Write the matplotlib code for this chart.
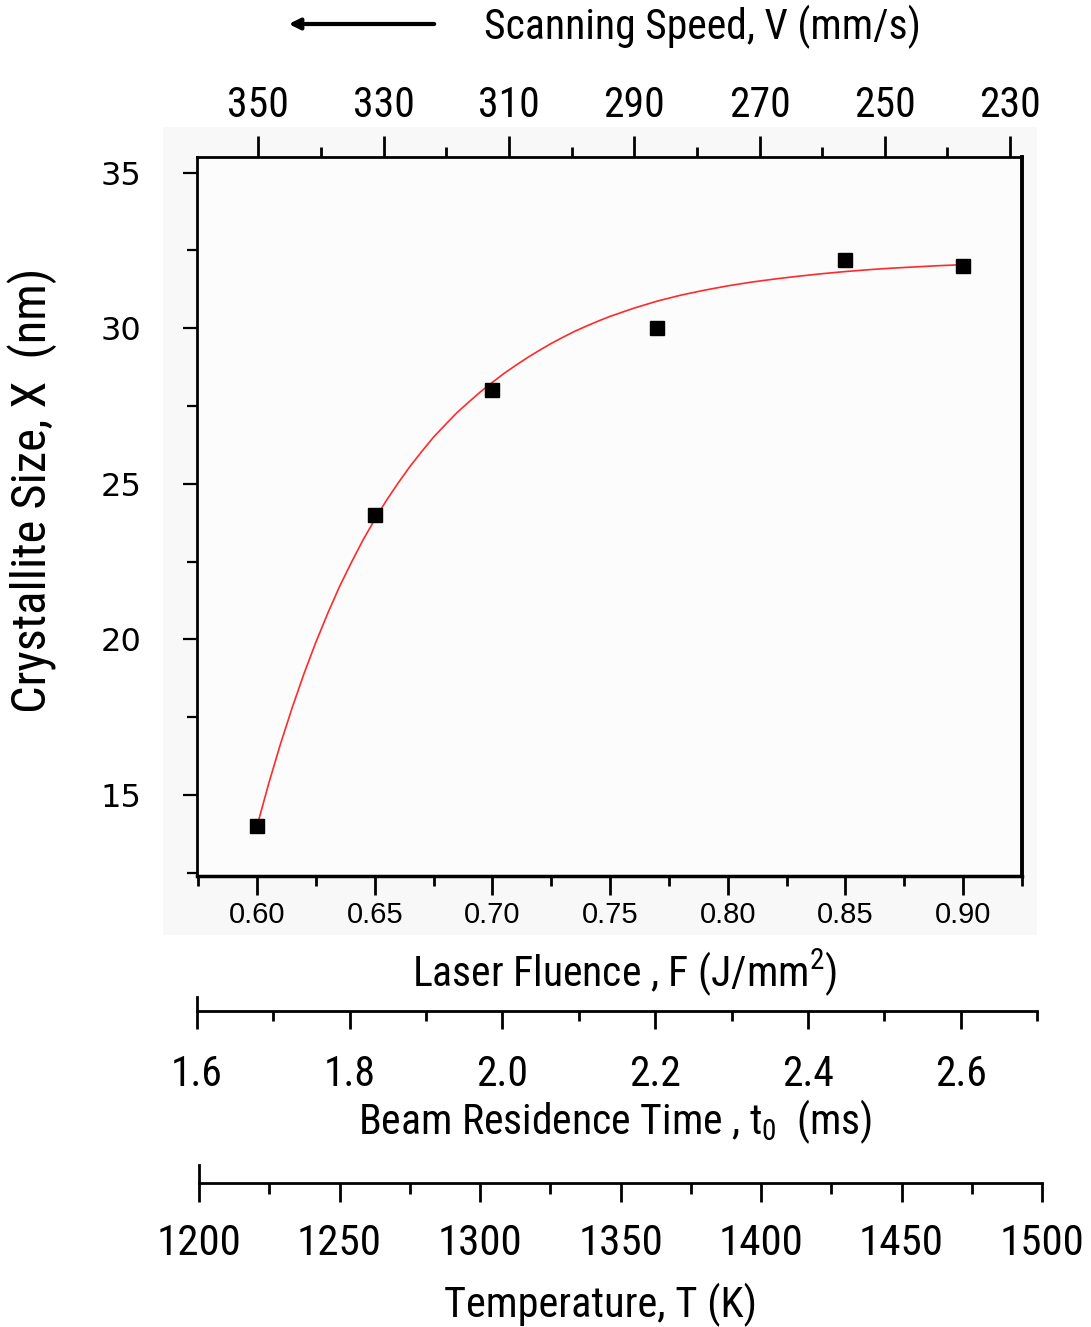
import matplotlib
matplotlib.use('Agg')
import matplotlib.pyplot as plt
from matplotlib import font_manager as fm
from matplotlib.patches import Rectangle, FancyArrowPatch
from matplotlib.ticker import MultipleLocator, FixedLocator, FormatStrFormatter

# ---------------- data ----------------
fluence = [0.60, 0.65, 0.70, 0.77, 0.85, 0.90]
size_nm = [14.0, 24.0, 28.0, 30.0, 32.2, 32.0]

# points
fit_fluence = [0.600, 0.605, 0.610, 0.615, 0.620, 0.625, 0.630, 0.635, 0.640, 0.645,
               0.650, 0.655, 0.660, 0.665, 0.670, 0.675, 0.680, 0.685, 0.690, 0.695,
               0.700, 0.705, 0.710, 0.715, 0.720, 0.725, 0.730, 0.735, 0.740, 0.745,
               0.750, 0.760, 0.770, 0.780, 0.790, 0.800, 0.810, 0.820, 0.830, 0.840,
               0.850, 0.860, 0.870, 0.880, 0.890, 0.900]
fit_size = [14.00, 15.38, 16.65, 17.82, 18.91, 19.91, 20.83, 21.69, 22.46, 23.19,
            23.85, 24.47, 25.03, 25.56, 26.04, 26.50, 26.90, 27.29, 27.63, 27.96,
            28.26, 28.55, 28.81, 29.06, 29.29, 29.51, 29.71, 29.90, 30.07, 30.23,
            30.38, 30.64, 30.87, 31.06, 31.22, 31.36, 31.48, 31.58, 31.67, 31.75,
            31.82, 31.88, 31.93, 31.97, 32.01, 32.04]

fluence_ticks = [0.60, 0.65, 0.70, 0.75, 0.80, 0.85, 0.90]
size_ticks = [15, 20, 25, 30, 35]
speed_ticks = [350, 330, 310, 290, 270, 250, 230]
time_ticks = [1.6, 1.8, 2.0, 2.2, 2.4, 2.6]
temp_ticks = [1200, 1250, 1300, 1350, 1400, 1450, 1500]


def pick(names):
    for n in names:
        try:
            fm.findfont(fm.FontProperties(family=n), fallback_to_default=False)
            return n
        except Exception:
            pass
    return 'DejaVu Sans'


NARROW = pick(['Liberation Sans Narrow', 'Roboto Condensed', 'Liberation Sans'])
ARIAL = pick(['Liberation Sans', 'DejaVu Sans'])

plt.rcParams['mathtext.fontset'] = 'custom'
plt.rcParams['mathtext.rm'] = NARROW
plt.rcParams['mathtext.it'] = NARROW
plt.rcParams['mathtext.bf'] = NARROW

W, H = 1091, 1327
fig = plt.figure(figsize=(W / 100, H / 100), dpi=100)
fig.patch.set_facecolor('white')


def fx(px):
    return px / W


def fy(py):
    return 1 - py / H


def rect(l, t, r, b):
    return [l / W, 1 - b / H, (r - l) / W, (b - t) / H]


# faint grey background panel
fig.add_artist(Rectangle((fx(163), fy(935)), (1037 - 163) / W, (935 - 127) / H,
                         transform=fig.transFigure, color='#f8f8f8', zorder=-5, lw=0))

# ---------------- main axes ----------------
ax = fig.add_axes(rect(197, 157, 1022, 876))
ax.set_facecolor('#fcfcfc')
ax.set_xlim(0.5745, 0.925)
ax.set_ylim(12.4, 35.5)
ax.plot(fit_fluence, fit_size, color='#ff2a2a', lw=1.2, zorder=2)
ax.plot(fluence, size_nm, 's', color='black', ms=10.5, zorder=3)

ax.xaxis.set_major_locator(FixedLocator(fluence_ticks))
ax.xaxis.set_major_formatter(FormatStrFormatter('%.2f'))
ax.xaxis.set_minor_locator(MultipleLocator(0.025))
ax.yaxis.set_major_locator(FixedLocator(size_ticks))
ax.yaxis.set_minor_locator(MultipleLocator(2.5))

ax.spines['top'].set_visible(False)
ax.spines['left'].set_linewidth(2.0)
ax.spines['bottom'].set_linewidth(2.5)
ax.spines['right'].set_linewidth(2.8)

ax.tick_params(axis='x', which='major', direction='out', length=14, width=2, pad=4,
               labelsize=21)
ax.tick_params(axis='x', which='minor', direction='out', length=7.5, width=2)
ax.tick_params(axis='y', which='major', direction='out', length=10, width=1.6, pad=30,
               labelsize=23)
ax.tick_params(axis='y', which='minor', direction='out', length=7, width=1.6)
for lab in ax.get_xticklabels():
    lab.set_fontfamily(ARIAL)
for lab in ax.get_yticklabels():
    lab.set_fontfamily('DejaVu Sans')

# ---------------- top axis: scanning speed ----------------
ax2 = ax.twiny()
ax2.set_xlim(359.8, 228.1)
ax2.patch.set_visible(False)
for s in ['left', 'right', 'bottom']:
    ax2.spines[s].set_visible(False)
ax2.spines['top'].set_linewidth(2.0)
ax2.xaxis.set_major_locator(FixedLocator(speed_ticks))
ax2.xaxis.set_minor_locator(MultipleLocator(10))
ax2.tick_params(axis='x', which='major', direction='out', length=15, width=2, pad=7,
                labelsize=30)
ax2.tick_params(axis='x', which='minor', direction='out', length=7, width=2)
for lab in ax2.get_xticklabels():
    lab.set_fontfamily(NARROW)

# ---------------- beam residence time axis ----------------
axb = fig.add_axes(rect(197, 997, 1037, 1011))
axb.patch.set_visible(False)
axb.set_xlim(1.6, 2.7)
axb.set_yticks([])
for s in ['top', 'right']:
    axb.spines[s].set_visible(False)
axb.spines['bottom'].set_linewidth(2.0)
axb.spines['left'].set_linewidth(2.0)
axb.xaxis.set_major_locator(FixedLocator(time_ticks))
axb.xaxis.set_major_formatter(FormatStrFormatter('%.1f'))
axb.xaxis.set_minor_locator(MultipleLocator(0.1))
axb.tick_params(axis='x', which='major', direction='out', length=13, width=2, pad=18,
                labelsize=30)
axb.tick_params(axis='x', which='minor', direction='out', length=7, width=2)
for lab in axb.get_xticklabels():
    lab.set_fontfamily(NARROW)

# ---------------- temperature axis ----------------
axt = fig.add_axes(rect(199, 1165, 1042, 1183))
axt.patch.set_visible(False)
axt.set_xlim(1200, 1500)
axt.set_yticks([])
for s in ['top', 'right']:
    axt.spines[s].set_visible(False)
axt.spines['bottom'].set_linewidth(2.0)
axt.spines['left'].set_linewidth(2.0)
axt.xaxis.set_major_locator(FixedLocator(temp_ticks))
axt.xaxis.set_minor_locator(MultipleLocator(25))
axt.tick_params(axis='x', which='major', direction='out', length=14, width=2, pad=15,
                labelsize=31)
axt.tick_params(axis='x', which='minor', direction='out', length=8, width=2)
for lab in axt.get_xticklabels():
    lab.set_fontfamily(NARROW)

# ---------------- titles / labels ----------------
fig.text(fx(702), fy(27), 'Scanning Speed, V (mm/s)', ha='center', va='center',
         fontsize=30, fontfamily=NARROW)
fig.add_artist(FancyArrowPatch((fx(437), fy(24)), (fx(286), fy(24)),
                               transform=fig.transFigure, arrowstyle='-|>',
                               mutation_scale=16, lw=3, color='black'))
fig.text(fx(625), fy(973), 'Laser Fluence , F (J/mm$^2$)', ha='center', va='center',
         fontsize=30, fontfamily=NARROW)
fig.text(fx(615), fy(1122), 'Beam Residence Time , t$_0$  (ms)', ha='center', va='center',
         fontsize=30, fontfamily=NARROW)
fig.text(fx(601), fy(1305), 'Temperature, T (K)', ha='center', va='center',
         fontsize=30.5, fontfamily=NARROW)
fig.text(fx(32), fy(490), 'Crystallite Size, X  (nm)', ha='center', va='center',
         rotation=90, fontsize=35, fontfamily=NARROW)

fig.savefig('out.png', dpi=100)
